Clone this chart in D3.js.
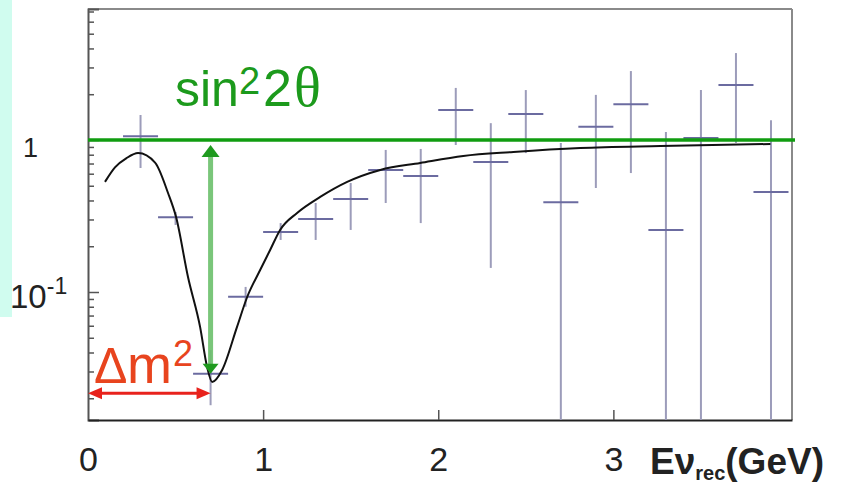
<!DOCTYPE html>
<html>
<head>
<meta charset="utf-8">
<script src="https://cdn.jsdelivr.net/npm/d3@7"></script>
<style>
  body { margin: 0; background: #fff; }
  svg { display: block; }
</style>
</head>
<body>
<svg id="chart" width="849" height="486"></svg>
<script>
// Reconstructed neutrino energy bins (GeV) and observed/expected ratio per bin
const binCenters = [0.3, 0.5, 0.7, 0.9, 1.1, 1.3, 1.5, 1.7, 1.9, 2.1, 2.3, 2.5, 2.7, 2.9, 3.1, 3.3, 3.5, 3.7, 3.9];
const binHalfWidth = 0.1;
const ratio     = [1.06, 0.31, 0.029, 0.093, 0.248, 0.302, 0.409, 0.635, 0.58, 1.575, 0.716, 1.48, 0.39, 1.22, 1.72, 0.256, 1.03, 2.3, 0.455];
const ratioHigh = [1.46, 0.336, 0.0415, 0.108, 0.284, 0.385, 0.521, 0.86, 0.873, 2.2, 1.29, 2.13, 0.955, 1.98, 2.84, 1.13, 2.13, 3.73, 1.35];
const ratioLow  = [0.654, 0.276, 0.018, 0.08, 0.22, 0.22, 0.256, 0.385, 0.284, 0.927, 0.144, 0.82, 0.01, 0.483, 0.606, 0.01, 0.01, 0.955, 0.01];

// Best-fit oscillation curve, sampled along energy
const fitEnergy = [0.097, 0.154, 0.22, 0.286, 0.383, 0.457, 0.503, 0.571, 0.64, 0.68, 0.709, 0.766, 0.851, 0.909, 0.983, 1.04, 1.097, 1.194, 1.326, 1.48, 1.669, 1.897, 2.143, 2.429, 2.811, 3.27, 3.897];
const fitRatio  = [0.53, 0.66, 0.76, 0.82, 0.71, 0.448, 0.311, 0.1255, 0.059, 0.0321, 0.0256, 0.0307, 0.059, 0.0927, 0.1395, 0.189, 0.256, 0.331, 0.422, 0.53, 0.635, 0.706, 0.785, 0.834, 0.886, 0.913, 0.941];

// Axis ticks
const xTicks = [0, 1, 2, 3];
const xTickLabels = ["0", "1", "2", "3"];
const yMajorTicks = [0.1, 1];
const yTickBase = ["10", "1"];
const yTickExp = ["-1", ""];
const yMinorTicks = [0.02, 0.03, 0.04, 0.05, 0.06, 0.07, 0.08, 0.09,
                     0.2, 0.3, 0.4, 0.5, 0.6, 0.7, 0.8, 0.9,
                     2, 3, 4, 5, 6, 7];

// Annotation levels: no-oscillation ratio, oscillation dip
const unityLevel = 1;
const dipEnergy = 0.7;
const dipArrowLevel = 0.029;
const dm2ArrowLevel = 0.0216;

const svg = d3.select("#chart");
const frame = { left: 88, right: 792, top: 9, bottom: 420 };
const SANS = "'Liberation Sans', Arial, sans-serif";

const x = d3.scaleLinear().domain([0, 4.02]).range([frame.left, frame.right]);
const y = d3.scaleLog().domain([0.01439, 7.27]).range([frame.bottom, frame.top]).clamp(true);

// side panel strip
svg.append("rect").attr("x", 0).attr("y", 0).attr("width", 12).attr("height", 317).attr("fill", "#d0fcef");

// frame
svg.append("line").attr("x1", frame.left).attr("x2", frame.right).attr("y1", frame.top).attr("y2", frame.top)
  .attr("stroke", "#8a8a8a").attr("stroke-width", 2);
svg.append("line").attr("x1", frame.right).attr("x2", frame.right).attr("y1", frame.top).attr("y2", frame.bottom)
  .attr("stroke", "#8a8a8a").attr("stroke-width", 2);

// y axis: minor ticks
const gMinor = svg.append("g").attr("transform", `translate(${frame.left},0)`)
  .call(d3.axisLeft(y).tickValues(yMinorTicks).tickSize(-6).tickFormat(""));
gMinor.select(".domain").remove();
gMinor.selectAll(".tick line").attr("stroke", "#555").attr("stroke-width", 1.5);

// y axis: major ticks with labels
const gMajor = svg.append("g").attr("transform", `translate(${frame.left},0)`)
  .call(d3.axisLeft(y).tickValues(yMajorTicks).tickSize(-11).tickFormat(""));
gMajor.select(".domain").attr("stroke", "#555").attr("stroke-width", 2);
gMajor.selectAll(".tick line").attr("stroke", "#555").attr("stroke-width", 1.5);
gMajor.selectAll(".tick text").remove();
gMajor.selectAll(".tick").each(function (d, i) {
  const big = yTickExp[i] !== "";
  const t = d3.select(this).append("text")
    .attr("font-family", SANS)
    .attr("fill", "#222")
    .attr("text-anchor", big ? "start" : "end")
    .attr("x", big ? -78 : -50)
    .attr("y", big ? 15 : 17);
  t.append("tspan").attr("font-size", big ? 33 : 27).text(yTickBase[i]);
  if (big) t.append("tspan").attr("font-size", 23).attr("dy", -14).text(yTickExp[i]);
});

// x axis
const gX = svg.append("g").attr("transform", `translate(0,${frame.bottom})`)
  .call(d3.axisBottom(x).tickValues(xTicks).tickSize(-10).tickSizeOuter(0).tickFormat((d, i) => xTickLabels[i]));
gX.select(".domain").attr("stroke", "#222").attr("stroke-width", 2);
gX.selectAll(".tick line").attr("stroke", "#555").attr("stroke-width", 1.5);
gX.selectAll(".tick text")
  .attr("font-family", SANS)
  .attr("font-size", 34).attr("fill", "#222")
  .attr("y", 51).attr("dy", 0);
gX.selectAll(".tick").filter(d => d === 0).select("line").remove();

// x axis title
const xt = svg.append("text")
  .attr("font-family", SANS)
  .attr("font-weight", "bold").attr("fill", "#222")
  .attr("x", 650).attr("y", 474);
xt.append("tspan").attr("font-size", 37).text("Eν");
xt.append("tspan").attr("font-size", 20).attr("dy", 6).text("rec");
xt.append("tspan").attr("font-size", 37).attr("dy", -6).text("(GeV)");

// data points with error bars
const pts = binCenters.map((e, i) => ({ e, v: ratio[i], hi: ratioHigh[i], lo: ratioLow[i] }));
const gPts = svg.append("g");
gPts.selectAll("line.v").data(pts).join("line").attr("class", "v")
  .attr("x1", d => x(d.e)).attr("x2", d => x(d.e))
  .attr("y1", d => y(d.hi)).attr("y2", d => y(d.lo))
  .attr("stroke", "#9c9cba").attr("stroke-width", 2);
gPts.selectAll("line.h").data(pts).join("line").attr("class", "h")
  .attr("x1", d => x(d.e - binHalfWidth)).attr("x2", d => x(d.e + binHalfWidth))
  .attr("y1", d => y(d.v)).attr("y2", d => y(d.v))
  .attr("stroke", "#6b6ba0").attr("stroke-width", 2);

// fit curve
const fit = fitEnergy.map((e, i) => [e, fitRatio[i]]);
svg.append("path").datum(fit)
  .attr("d", d3.line().x(d => x(d[0])).y(d => y(d[1])).curve(d3.curveMonotoneX))
  .attr("fill", "none").attr("stroke", "#111").attr("stroke-width", 2);

// unity line
svg.append("line")
  .attr("x1", x(0)).attr("x2", frame.right + 3)
  .attr("y1", y(unityLevel)).attr("y2", y(unityLevel))
  .attr("stroke", "#109c10").attr("stroke-width", 3.5);

// vertical double arrow: oscillation amplitude
const ax = x(dipEnergy);
const aTop = y(unityLevel) + 5, aBot = y(dipArrowLevel);
svg.append("line").attr("x1", ax).attr("x2", ax).attr("y1", aTop + 10).attr("y2", aBot - 8)
  .attr("stroke", "#6cc06c").attr("stroke-width", 5).attr("opacity", 0.9);
svg.append("path")
  .attr("d", `M${ax},${aTop} L${ax - 9},${aTop + 12} L${ax + 9},${aTop + 12} Z`)
  .attr("fill", "#1f9a1f");
svg.append("path")
  .attr("d", `M${ax},${aBot} L${ax - 8},${aBot - 10} L${ax + 8},${aBot - 10} Z`)
  .attr("fill", "#1f9a1f");

// horizontal double arrow: mass splitting
const ry = y(dm2ArrowLevel);
const rx0 = x(0), rx1 = x(dipEnergy);
svg.append("line").attr("x1", rx0 + 8).attr("x2", rx1 - 8).attr("y1", ry).attr("y2", ry)
  .attr("stroke", "#e8221c").attr("stroke-width", 3);
svg.append("path").attr("d", `M${rx0},${ry} L${rx0 + 14},${ry - 6} L${rx0 + 14},${ry + 6} Z`).attr("fill", "#e8221c");
svg.append("path").attr("d", `M${rx1},${ry} L${rx1 - 14},${ry - 6} L${rx1 - 14},${ry + 6} Z`).attr("fill", "#e8221c");

// annotation labels
const st = svg.append("text")
  .attr("font-family", SANS)
  .attr("fill", "#1c9a1c").attr("y", 106);
st.append("tspan").attr("x", 175).attr("font-size", 50).text("sin");
st.append("tspan").attr("x", 239).attr("font-size", 38).attr("dy", -12).text("2");
st.append("tspan").attr("x", 263).attr("font-size", 52).attr("dy", 12).text("2");
st.append("tspan").attr("x", 294).attr("font-size", 56).attr("font-family", "'Liberation Serif', 'Times New Roman', serif").text("θ");

const dt = svg.append("text")
  .attr("font-family", SANS)
  .attr("fill", "#e8441e").attr("y", 383);
dt.append("tspan").attr("x", 94).attr("font-size", 50).text("Δ");
dt.append("tspan").attr("x", 127).attr("font-size", 54).text("m");
dt.append("tspan").attr("x", 173).attr("font-size", 36).attr("dy", -17).text("2");
</script>
</body>
</html>
